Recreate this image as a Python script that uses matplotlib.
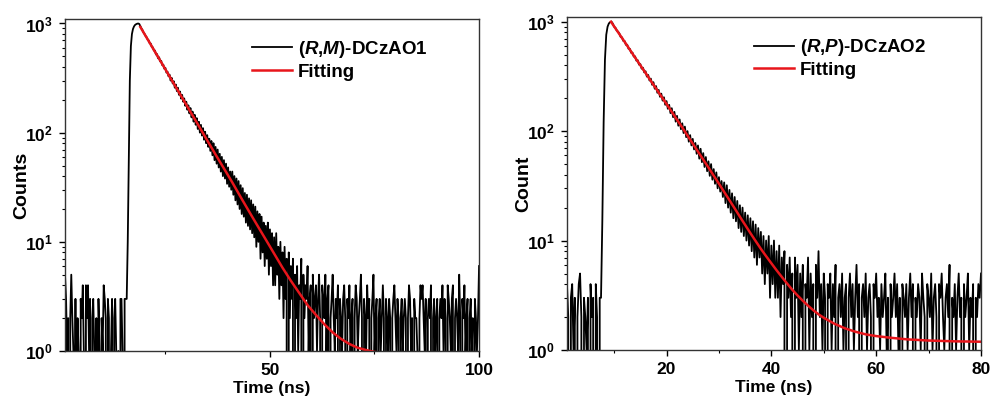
import numpy as np
import matplotlib
matplotlib.use("Agg")
import matplotlib.pyplot as plt
from matplotlib.ticker import LogLocator, FuncFormatter, MultipleLocator, NullFormatter

plt.rcParams['font.family'] = ['Liberation Sans', 'DejaVu Sans']
plt.rcParams['font.weight'] = 'bold'
plt.rcParams['mathtext.fontset'] = 'custom'
plt.rcParams['mathtext.rm'] = 'Liberation Sans:bold'
plt.rcParams['mathtext.bf'] = 'Liberation Sans:bold'
plt.rcParams['mathtext.it'] = 'Liberation Sans:italic:bold'
plt.rcParams['mathtext.bfit'] = 'Liberation Sans:italic:bold'

# ---- left panel: (R,M)-DCzAO1, channels every 0.25 ns from 1 to 100 ns (one row = 5 ns) ----
t1_start, t1_step = 1.0, 0.25
counts1 = [
    5, 3, 1, 2, 0, 2, 5, 2, 1, 0, 3, 0, 2, 1, 0, 3, 2, 4, 1, 0,
    4, 2, 4, 1, 3, 0, 2, 3, 1, 0, 2, 0, 3, 1, 0, 2, 1, 4, 3, 2,
    0, 3, 2, 0, 1, 3, 0, 2, 3, 1, 0, 1, 0, 3, 3, 1, 0, 3, 3, 3,
    10, 60, 300, 620, 800, 890, 940, 970, 985, 995, 1000, 990, 950, 905, 875, 830, 805, 770, 750, 715,
    700, 660, 655, 610, 605, 565, 565, 520, 525, 480, 490, 450, 455, 415, 420, 385, 392, 355, 362, 328,
    340, 300, 318, 282, 296, 258, 276, 240, 258, 222, 238, 205, 222, 192, 206, 176, 192, 162, 178, 150,
    168, 138, 156, 126, 146, 118, 136, 108, 126, 100, 118, 94, 110, 86, 102, 80, 95, 74, 88, 68,
    84, 62, 80, 56, 74, 52, 70, 48, 64, 44, 60, 40, 56, 38, 52, 34, 48, 32, 44, 30,
    44, 27, 40, 24, 38, 22, 36, 20, 33, 18, 31, 17, 28, 15, 27, 14, 25, 13, 24, 12,
    22, 11, 21, 9, 19, 10, 18, 7, 17, 8, 15, 6, 14, 7, 15, 5, 13, 6, 12, 4,
    11, 4, 12, 5, 9, 3, 10, 4, 8, 2, 9, 3, 7, 0, 8, 2, 6, 3, 7, 0,
    5, 2, 6, 1, 4, 3, 7, 0, 5, 2, 4, 3, 6, 1, 3, 4, 0, 5, 2, 3,
    4, 1, 3, 5, 2, 0, 4, 3, 2, 5, 1, 3, 4, 0, 2, 3, 5, 2, 1, 3,
    2, 4, 0, 3, 2, 1, 3, 4, 2, 0, 3, 2, 4, 1, 2, 3, 0, 2, 4, 3,
    1, 2, 3, 5, 2, 0, 3, 2, 1, 4, 2, 3, 0, 2, 3, 5, 1, 2, 3, 0,
    2, 3, 1, 2, 4, 2, 0, 3, 2, 1, 3, 2, 0, 2, 3, 4, 2, 1, 3, 2,
    0, 2, 3, 1, 2, 3, 2, 0, 2, 4, 3, 1, 2, 0, 3, 2, 2, 1, 0, 2,
    4, 3, 4, 2, 1, 3, 0, 2, 3, 2, 4, 0, 2, 3, 1, 2, 3, 0, 2, 3,
    2, 4, 1, 3, 2, 0, 4, 3, 2, 1, 3, 4, 0, 2, 3, 2, 1, 5, 2, 0,
    3, 2, 4, 1, 2, 3, 0, 2, 3, 1, 2, 0, 3, 2, 1, 2, 6,
]
fit1_t = [19, 21, 23, 25, 27, 29, 31, 33, 35, 37, 39, 41, 43, 45, 47,
          49, 51, 53, 55, 57, 59, 61, 63, 65, 67, 69, 71, 73, 75, 77]
fit1_counts = [930, 690, 512, 380, 282, 209, 155, 115, 85, 63, 47, 35, 25.7, 19.0, 14.1,
               10.5, 7.8, 5.8, 4.4, 3.4, 2.63, 2.14, 1.76, 1.48, 1.29, 1.16, 1.07, 1.02, 0.98, 0.96]

# ---- right panel: (R,P)-DCzAO2, channels every 0.25 ns from 1 to 80 ns (one row = 5 ns) ----
t2_start, t2_step = 1.0, 0.25
counts2 = [
    4, 2, 0, 3, 4, 1, 3, 0, 2, 4, 5, 2, 0, 3, 2, 1, 3, 0, 4, 2,
    3, 0, 4, 2, 0, 3, 3, 15, 120, 450, 760, 900, 965, 990, 1000, 960, 900, 880, 830, 810,
    780, 725, 720, 668, 665, 615, 615, 566, 565, 520, 522, 480, 482, 440, 445, 405, 410, 372, 380, 344,
    352, 315, 326, 290, 302, 265, 280, 244, 258, 224, 238, 206, 220, 190, 204, 174, 188, 160, 174, 146,
    162, 134, 150, 122, 138, 112, 128, 104, 118, 96, 110, 88, 100, 80, 92, 74, 85, 68, 78, 62,
    74, 56, 69, 52, 63, 47, 58, 43, 53, 39, 50, 36, 45, 33, 42, 30, 38, 28, 35, 25,
    34, 22, 32, 20, 29, 18, 27, 16, 25, 15, 23, 13, 21, 12, 20, 11, 18, 10, 17, 9,
    16, 8, 15, 7, 14, 6, 13, 7, 12, 5, 11, 4, 10, 5, 11, 3, 9, 4, 10, 3,
    8, 3, 9, 2, 7, 4, 8, 0, 6, 3, 7, 2, 5, 0, 7, 3, 6, 1, 5, 2,
    6, 0, 4, 3, 7, 1, 5, 2, 4, 0, 6, 3, 8, 2, 4, 1, 5, 3, 0, 4,
    3, 5, 1, 4, 2, 6, 0, 3, 4, 2, 5, 1, 3, 4, 0, 3, 5, 2, 4, 1,
    3, 6, 2, 4, 0, 3, 4, 2, 5, 1, 3, 4, 2, 0, 4, 3, 5, 2, 3, 1,
    4, 2, 3, 5, 1, 3, 0, 4, 2, 3, 5, 2, 4, 1, 3, 0, 4, 3, 2, 4,
    1, 3, 5, 2, 4, 0, 3, 2, 4, 3, 1, 5, 3, 2, 0, 4, 3, 2, 5, 1,
    3, 4, 2, 0, 4, 3, 5, 2, 1, 3, 4, 2, 6, 0, 3, 2, 4, 1, 3, 5,
    2, 3, 0, 4, 2, 3, 5, 1, 3, 2, 4, 0, 3, 2, 4, 3, 5,
]
fit2_t = [9.4, 10, 11, 12, 13, 14, 15, 16, 17, 18, 19, 20, 21, 22, 23, 24, 25, 26,
          27, 28, 29, 30, 31, 32, 33, 34, 35, 36, 37, 38, 39, 40, 41, 42, 43, 44,
          45, 46, 47, 48, 49, 50, 52, 54, 56, 58, 60, 63, 66, 70, 75, 80]
fit2_counts = [1000, 905, 770, 655, 555, 470, 400, 340, 288, 245, 208, 177, 150, 127,
               108, 91, 77, 65, 55, 46.5, 39.2, 33.1, 27.8, 23.4, 19.7, 16.5, 13.9,
               11.7, 9.9, 8.4, 7.2, 6.2, 5.35, 4.65, 4.05, 3.55, 3.15, 2.82, 2.54,
               2.31, 2.12, 1.97, 1.74, 1.58, 1.47, 1.39, 1.34, 1.29, 1.25, 1.22, 1.20, 1.19]

t1 = t1_start + t1_step * np.arange(len(counts1))
t2 = t2_start + t2_step * np.arange(len(counts2))


def log_label(v, pos):
    return r'$\mathbf{10^{%d}}$' % int(round(np.log10(v)))


def style_axes(ax, xlim, xmajor, xminor, ylabel):
    ax.set_yscale('log')
    ax.set_xlim(*xlim)
    ax.set_ylim(1, 1100)
    ax.xaxis.set_major_locator(MultipleLocator(xmajor))
    ax.xaxis.set_minor_locator(MultipleLocator(xminor))
    ax.yaxis.set_major_locator(LogLocator(base=10, numticks=10))
    ax.yaxis.set_minor_locator(LogLocator(base=10, subs=np.arange(2, 10), numticks=20))
    ax.yaxis.set_major_formatter(FuncFormatter(log_label))
    ax.yaxis.set_minor_formatter(NullFormatter())
    ax.tick_params(which='major', direction='out', length=4.5, width=1.0,
                   labelsize=12.5, top=False, right=False, pad=4)
    ax.tick_params(which='minor', direction='out', length=2.5, width=0.8,
                   top=False, right=False)
    for sp in ax.spines.values():
        sp.set_linewidth(1.0)
        sp.set_color('#333333')
    ax.set_xlabel('Time (ns)', fontsize=12.5, fontweight='bold', labelpad=2)
    ax.set_ylabel(ylabel, fontsize=14, fontweight='bold')
    ax.yaxis.set_label_coords(-0.084, 0.5)


fig = plt.figure(figsize=(9.91, 4.01), dpi=100)
ax1 = fig.add_axes([0.0656, 0.1247, 0.4178, 0.828])
ax2 = fig.add_axes([0.5721, 0.1272, 0.4178, 0.830])

ax1.plot(t1, counts1, color='black', lw=1.3, label=r'($\mathbfit{R}$,$\mathbfit{M}$)-DCzAO1')
ax1.plot(fit1_t, fit1_counts, color='#e8151b', lw=1.8, label='Fitting')
style_axes(ax1, (1, 100), 50, 25, 'Counts')

ax2.plot(t2, counts2, color='black', lw=1.3, label=r'($\mathbfit{R}$,$\mathbfit{P}$)-DCzAO2')
ax2.plot(fit2_t, fit2_counts, color='#e8151b', lw=1.8, label='Fitting')
style_axes(ax2, (1, 80), 20, 10, 'Count')

for ax in (ax1, ax2):
    ax.legend(loc='upper left', bbox_to_anchor=(0.452, 0.94), frameon=False,
              prop={'weight': 'bold', 'size': 13.5}, handlelength=2.15,
              handletextpad=0.28, labelspacing=0.2, borderpad=0, borderaxespad=0)

fig.savefig('out.png', dpi=100)
